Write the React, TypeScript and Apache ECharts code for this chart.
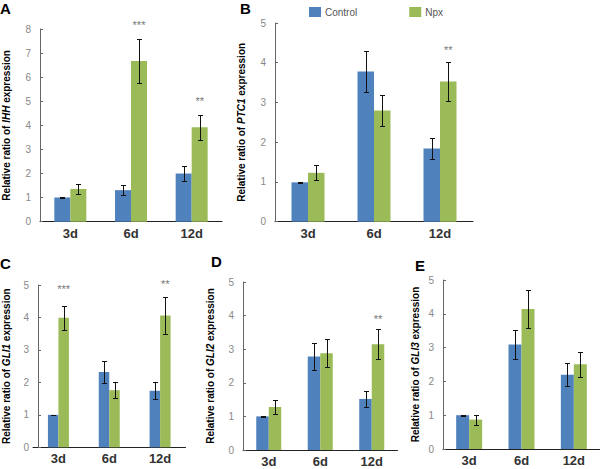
import React, { useEffect, useRef } from "react";
import * as echarts from "echarts";

const categories = ["3d", "6d", "12d"];
const seriesNames = ["Control", "Npx"];
const colors = ["#4F81BD", "#9BBB59"];

// Panel A: IHH
const ihhControl = [1.0, 1.31, 2.0];
const ihhControlErr = [0.01, 0.21, 0.3];
const ihhNpx = [1.36, 6.67, 3.92];
const ihhNpxErr = [0.21, 0.9, 0.53];
const ihhStars = ["", "***", "**"];
const ihhStarY = [0, 8.15, 5.02];

// Panel B: PTC1
const ptcControl = [0.99, 3.78, 1.84];
const ptcControlErr = [0.01, 0.52, 0.27];
const ptcNpx = [1.23, 2.8, 3.53];
const ptcNpxErr = [0.19, 0.39, 0.49];
const ptcStars = ["", "", "**"];
const ptcStarY = [0, 0, 4.31];

// Panel C: GLI1
const gli1Control = [1.0, 2.32, 1.74];
const gli1ControlErr = [0.01, 0.34, 0.26];
const gli1Npx = [3.99, 1.76, 4.06];
const gli1NpxErr = [0.37, 0.25, 0.57];
const gli1Stars = ["***", "", "**"];
const gli1StarY = [4.88, 0, 5.02];

// Panel D: GLI2
const gli2Control = [1.0, 2.78, 1.52];
const gli2ControlErr = [0.01, 0.39, 0.23];
const gli2Npx = [1.28, 2.88, 3.15];
const gli2NpxErr = [0.2, 0.41, 0.44];
const gli2Stars = ["", "", "**"];
const gli2StarY = [0, 0, 3.9];

// Panel E: GLI3
const gli3Control = [1.0, 3.09, 2.2];
const gli3ControlErr = [0.01, 0.44, 0.33];
const gli3Npx = [0.87, 4.14, 2.51];
const gli3NpxErr = [0.15, 0.57, 0.37];
const gli3Stars = ["", "", ""];
const gli3StarY = [0, 0, 0];

const panelLetters = ["A", "B", "C", "D", "E"];
const genes = ["IHH", "PTC1", "GLI1", "GLI2", "GLI3"];
const yMax = [8, 5, 5, 5, 5];

const FONT = "'Liberation Sans', Arial, Helvetica, sans-serif";

const panels = [
  { control: ihhControl, cErr: ihhControlErr, npx: ihhNpx, nErr: ihhNpxErr, stars: ihhStars, starY: ihhStarY },
  { control: ptcControl, cErr: ptcControlErr, npx: ptcNpx, nErr: ptcNpxErr, stars: ptcStars, starY: ptcStarY },
  { control: gli1Control, cErr: gli1ControlErr, npx: gli1Npx, nErr: gli1NpxErr, stars: gli1Stars, starY: gli1StarY },
  { control: gli2Control, cErr: gli2ControlErr, npx: gli2Npx, nErr: gli2NpxErr, stars: gli2Stars, starY: gli2StarY },
  { control: gli3Control, cErr: gli3ControlErr, npx: gli3Npx, nErr: gli3NpxErr, stars: gli3Stars, starY: gli3StarY },
];

// layout (pixels)
const grids = [
  { left: 35, top: 29, width: 187, height: 192.7 },
  { left: 275, top: 23, width: 198, height: 198.7 },
  { left: 28, top: 285, width: 157.5, height: 162.3 },
  { left: 243, top: 282, width: 154.5, height: 168 },
  { left: 443, top: 280, width: 157, height: 169 },
];
const barWidths = [16, 16.5, 10.5, 12.5, 13];
const yOffsets = [0, 0, -5, 0, 0];
const nameGaps = [29, 29, 27, 28, 23];
const letterPos = [
  [0, 1],
  [240, 1],
  [0, 256],
  [211, 254],
  [415, 258],
];

function buildOption() {
  const grid: any[] = [];
  const xAxis: any[] = [];
  const yAxis: any[] = [];
  const series: any[] = [];
  const graphic: any[] = [];

  panels.forEach((p, i) => {
    grid.push({ ...grids[i] });
    xAxis.push({
      type: "category",
      gridIndex: i,
      data: categories,
      axisLine: { lineStyle: { color: "#222", width: 1 } },
      axisTick: { show: false },
      axisLabel: { color: "#333", fontSize: 13, fontWeight: "bold", fontFamily: FONT, margin: 5 },
    });
    yAxis.push({
      type: "value",
      gridIndex: i,
      min: 0,
      max: yMax[i],
      interval: 1,
      offset: yOffsets[i],
      splitLine: { show: false },
      axisLine: { show: true, lineStyle: { color: "#666", width: 1 } },
      axisTick: { show: true, inside: true, length: 3, lineStyle: { color: "#666" } },
      axisLabel: { color: "#888", fontSize: 10, fontFamily: FONT, margin: 9 },
      name: `{b|Relative ratio of }{bi|${genes[i]}}{b| expression}`,
      nameLocation: "middle",
      nameGap: nameGaps[i],
      nameTextStyle: {
        rich: {
          b: { fontSize: 10, fontWeight: "bold", color: "#000", fontFamily: FONT },
          bi: { fontSize: 10, fontWeight: "bold", fontStyle: "italic", color: "#000", fontFamily: FONT },
        },
      },
    });
    const bw = barWidths[i];
    series.push({
      type: "bar",
      name: seriesNames[0],
      xAxisIndex: i,
      yAxisIndex: i,
      data: p.control,
      barWidth: bw,
      barGap: "0%",
      itemStyle: { color: colors[0] },
    });
    series.push({
      type: "bar",
      name: seriesNames[1],
      xAxisIndex: i,
      yAxisIndex: i,
      data: p.npx,
      barWidth: bw,
      barGap: "0%",
      itemStyle: { color: colors[1] },
    });
    const errData: number[][] = [];
    p.control.forEach((v, k) => errData.push([k, v - p.cErr[k], v + p.cErr[k], -1]));
    p.npx.forEach((v, k) => errData.push([k, v - p.nErr[k], v + p.nErr[k], 1]));
    series.push({
      type: "custom",
      xAxisIndex: i,
      yAxisIndex: i,
      data: errData,
      encode: { x: 0, y: [1, 2] },
      silent: true,
      z: 5,
      renderItem: (params: any, api: any) => {
        const idx = api.value(0);
        const lo = api.value(1);
        const hi = api.value(2);
        const side = api.value(3);
        const pLo = api.coord([idx, lo]);
        const pHi = api.coord([idx, hi]);
        const x = Math.round(pLo[0] + (side * bw) / 2) + 0.5;
        const y1 = Math.round(pHi[1]) + 0.5;
        const y2 = Math.round(pLo[1]) + 0.5;
        const cap = 2.5;
        const st = { stroke: "#111", lineWidth: 1 };
        return {
          type: "group",
          children: [
            { type: "line", shape: { x1: x, y1, x2: x, y2 }, style: st },
            { type: "line", shape: { x1: x - cap, y1, x2: x + cap, y2: y1 }, style: st },
            { type: "line", shape: { x1: x - cap, y1: y2, x2: x + cap, y2 }, style: st },
          ],
        };
      },
    });
    const starData: number[][] = [];
    p.stars.forEach((s, k) => {
      if (s) starData.push([k, p.starY[k]]);
    });
    if (starData.length) {
      series.push({
        type: "custom",
        xAxisIndex: i,
        yAxisIndex: i,
        data: starData,
        encode: { x: 0, y: 1 },
        clip: false,
        silent: true,
        z: 6,
        renderItem: (params: any, api: any) => {
          const idx = api.value(0);
          const pt = api.coord([idx, api.value(1)]);
          return {
            type: "text",
            x: pt[0] + bw / 2,
            y: pt[1],
            style: {
              text: p.stars[idx],
              fill: "#777",
              fontSize: 11,
              fontFamily: FONT,
              textAlign: "center",
              textVerticalAlign: "middle",
            },
          };
        },
      });
    }
    graphic.push({
      type: "text",
      left: letterPos[i][0],
      top: letterPos[i][1],
      style: { text: panelLetters[i], fill: "#000", fontSize: 15, fontWeight: "bold", fontFamily: FONT },
    });
  });

  return {
    animation: false,
    backgroundColor: "#fff",
    legend: {
      left: 309,
      top: 7,
      itemWidth: 12,
      itemHeight: 10,
      itemGap: 52,
      icon: "rect",
      data: seriesNames,
      textStyle: { color: "#555", fontSize: 10, fontFamily: FONT, padding: [0, 0, 0, -1] },
      padding: 0,
    },
    grid,
    xAxis,
    yAxis,
    series,
    graphic,
  };
}

export default function App() {
  const ref = useRef<HTMLDivElement>(null);
  useEffect(() => {
    document.body.style.margin = "0";
    if (!ref.current) return;
    const chart = echarts.init(ref.current, null, { renderer: "svg" });
    chart.setOption(buildOption() as any);
    return () => chart.dispose();
  }, []);
  return (
    <div
      ref={ref}
      style={{ position: "absolute", left: 0, top: 0, width: 600, height: 469, background: "#fff" }}
    />
  );
}
